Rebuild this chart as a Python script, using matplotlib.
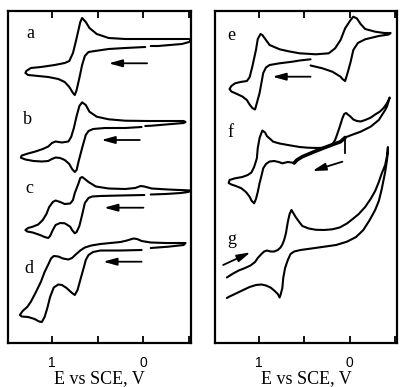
import matplotlib
matplotlib.use("Agg")
import matplotlib.pyplot as plt

# potentials in V vs SCE, currents in arbitrary units (traces stacked with offsets)
a_E = [-0.02, 0.20, 0.38, 0.53, 0.60, 0.64, 0.67, 0.70, 0.73, 0.75, 0.77, 0.81, 0.86, 0.93, 1.04, 1.15, 1.26, 1.29,
       1.28, 1.23, 1.12, 0.97, 0.86, 0.81, 0.77, 0.74, 0.71, 0.69, 0.67, 0.63, 0.59, 0.51, 0.38, 0.20, -0.05, -0.35, -0.50, -0.52,
       -0.50, -0.42, -0.16, -0.08]
a_I = [296, 295, 294, 292, 291, 287, 278, 265, 253, 248, 250, 256, 261, 264, 266, 267, 268, 270,
       272, 275, 276, 278, 280, 282, 290, 301, 313, 321, 325, 321, 315, 309, 305, 304, 304, 304, 304, 302.5,
       301, 299, 297, 297]

b_E = [0.02, 0.20, 0.42, 0.55, 0.60, 0.63, 0.67, 0.71, 0.73, 0.75, 0.78, 0.81, 0.86, 0.91, 0.96, 1.00, 1.04, 1.11, 1.20, 1.29, 1.34,
       1.33, 1.26, 1.18, 1.10, 1.04, 1.00, 0.96, 0.89, 0.82, 0.79, 0.76, 0.73, 0.70, 0.67, 0.63, 0.59, 0.51, 0.38, 0.20, -0.05, -0.27, -0.44, -0.46,
       -0.44, -0.27, -0.09, -0.02]
b_I = [216, 215, 215, 214, 212, 208, 195, 181, 173, 171, 174, 179, 183, 185, 185.5, 184, 182, 181.5, 182, 183.5, 185.3,
       187.5, 189.5, 191.5, 194, 196.5, 200, 201.5, 200.5, 201.5, 206, 215, 227, 237, 240.7, 238, 231.3, 226.3, 223.7, 222.3, 222, 222, 222, 221,
       220, 218.7, 217.3, 217]

c_E = [-0.01, 0.25, 0.47, 0.56, 0.60, 0.64, 0.67, 0.70, 0.73, 0.75, 0.78, 0.80, 0.86, 0.91, 0.96, 0.99, 1.02, 1.04, 1.08, 1.13, 1.21, 1.27, 1.29,
       1.26, 1.21, 1.15, 1.10, 1.06, 1.03, 0.99, 0.96, 0.91, 0.86, 0.80, 0.77, 0.75, 0.71, 0.69, 0.67, 0.64, 0.60, 0.52, 0.38, 0.20, 0.09, 0.03,
       -0.01, -0.09, -0.27, -0.52,
       -0.49, -0.41, -0.24, -0.08]
c_I = [148, 147.5, 147, 146.5, 145, 140, 128, 117, 111, 109.7, 113, 116.3, 119.7, 120, 118, 113, 107, 105, 106, 108, 110.5, 111.5, 113,
       115, 116.3, 118.5, 123, 129, 136, 141, 142.5, 141, 139, 139.5, 143, 150, 159.5, 165, 166, 164, 161, 156.5, 154.5, 154, 155, 157,
       156.5, 154.5, 153.5, 152.5,
       151, 150, 149, 148.5]

d_E = [0.02, 0.25, 0.47, 0.55, 0.60, 0.63, 0.65, 0.69, 0.72, 0.75, 0.78, 0.84, 0.89, 0.93, 0.98, 1.02, 1.05, 1.08, 1.11, 1.14, 1.19, 1.26, 1.33, 1.35,
       1.32, 1.27, 1.23, 1.18, 1.12, 1.08, 1.04, 1.01, 0.98, 0.93, 0.88, 0.82, 0.78, 0.74, 0.69, 0.64, 0.57, 0.47, 0.36, 0.25, 0.18, 0.11, 0.07,
       0.02, -0.08, -0.24, -0.46,
       -0.44, -0.27, -0.08]
d_I = [93, 92.5, 92.5, 91, 88, 83, 76, 63, 53, 48, 50, 55, 58, 58.5, 55.5, 46, 35, 26, 21, 21.5, 24, 26, 26.5, 28,
       32, 36, 41.3, 50, 61.3, 71, 78.5, 84.5, 87, 86.5, 84.5, 83.5, 85, 88.5, 92.5, 95.5, 97.5, 99, 100, 101, 102.5, 104.5, 104,
       102, 100.5, 100, 100,
       98, 96.3, 95]

e_E = [0.43, 0.55, 0.63, 0.77, 0.88, 0.92, 0.95, 0.97, 0.99, 1.02, 1.04, 1.07, 1.10, 1.13, 1.18, 1.25, 1.30, 1.32,
       1.30, 1.26, 1.20, 1.13, 1.10, 1.07, 1.03, 1.01, 0.98, 0.96, 0.92, 0.88, 0.77, 0.66, 0.55, 0.37, 0.23, 0.16, 0.10, 0.05,
       -0.01, -0.04, -0.08, -0.12, -0.17, -0.28, -0.38, -0.45,
       -0.43, -0.32, -0.17, -0.09, -0.04, -0.01, 0.02, 0.05, 0.08, 0.10, 0.19, 0.30, 0.43]
e_I = [283.7, 282.5, 281.3, 279.7, 278, 275.5, 270, 260, 250, 240, 233.5, 235, 238.5, 243, 246.5, 249.5, 251.5, 254,
       257, 259.7, 261, 262, 265.7, 276.3, 293, 304, 309, 308, 303, 298, 293.7, 291.5, 289.7, 288.7, 289.7, 294.7, 303, 314.7,
       323, 326.3, 324.5, 319, 314, 311.3, 310, 310,
       308.5, 307, 303.7, 300, 293, 281, 271, 262, 264, 266.3, 271.3, 274.7, 277.5]

f_E = [0.05, 0.10, 0.17, 0.25, 0.39, 0.52, 0.58, 0.61, 0.64, 0.68, 0.74, 0.78, 0.83, 0.88, 0.92, 0.95, 0.97, 0.99, 1.01, 1.03,
       1.05, 1.08, 1.10, 1.14, 1.19, 1.25, 1.30, 1.33,
       1.32, 1.26, 1.18, 1.12, 1.08, 1.05, 1.02, 1.01, 0.99, 0.96, 0.93, 0.91, 0.84, 0.77, 0.68, 0.55, 0.46, 0.36, 0.28, 0.23,
       0.19, 0.16, 0.14, 0.11, 0.08, 0.06, 0.04, 0.02, -0.01, -0.04, -0.08, -0.12, -0.17, -0.23, -0.28, -0.33, -0.37, -0.41, -0.44,
       -0.43, -0.41, -0.39, -0.32, -0.23, -0.12, -0.02, 0.05]
f_I = [205.5, 201.3, 199, 196.3, 191.3, 186.3, 183, 180, 180.5, 181, 179.7, 181, 182, 181.5, 179, 174.7, 167, 160, 151, 144,
       139.7, 142.5, 146.3, 151, 154.7, 157, 158.5, 160,
       163, 164.7, 166, 168, 170.5, 176, 184.7, 195, 205, 212.5, 210.5, 207, 201.3, 199.5, 198, 196, 195.3, 195, 195.3, 196.5,
       198.7, 203, 208, 216, 224.7, 229, 230, 228.5, 226.3, 223.5, 222, 221.5, 223, 225.3, 228.5, 231.3, 234.7, 239.7, 245.5,
       242.5, 236.5, 233, 223, 216.3, 211.3, 208, 205.5]
f_spike_E = [0.05, 0.05]
f_spike_I = [205, 190]

g_E = [1.35, 1.29, 1.22, 1.15, 1.09, 1.04, 1.01, 0.97, 0.94, 0.91, 0.87, 0.83, 0.79, 0.76, 0.74, 0.72, 0.70, 0.68, 0.66, 0.64,
       0.63, 0.59, 0.55, 0.52, 0.45, 0.37, 0.28, 0.19, 0.11, 0.03, -0.04, -0.10, -0.17, -0.23, -0.28, -0.32, -0.35, -0.39, -0.41, -0.42,
       -0.42, -0.41, -0.39, -0.35, -0.32, -0.28, -0.22, -0.15, -0.07, 0.03, 0.15, 0.28, 0.42, 0.54, 0.61, 0.65, 0.68, 0.71, 0.73,
       0.74, 0.76, 0.77, 0.79, 0.83, 0.87, 0.92, 0.97, 1.03, 1.10, 1.17, 1.25, 1.32, 1.35]
g_I = [65.5, 69, 72.5, 75, 77.5, 81, 85, 89, 91.5, 92.5, 91.5, 91.5, 93, 95.5, 98.5, 103, 110, 121, 129, 133,
       131.5, 125.5, 120.5, 117, 114.5, 113.2, 113, 113.7, 115.5, 119.5, 124.5, 129, 136, 144, 152, 161, 169, 178, 187, 196,
       191, 183, 171, 153, 142, 133, 123, 113, 106, 101.3, 98, 96.3, 94.5, 93, 91.5, 89, 83, 75, 65,
       55, 48, 45.5, 49, 52.5, 55.5, 57.5, 58.5, 58, 56, 53, 49.5, 46.5, 45]

labels_left = ['a', 'b', 'c', 'd']
labels_right = ['e', 'f', 'g']
tick_pos = [1, 0.5, 0, -0.5]
tick_text = ['1', '', '0', '']

serif = 'Liberation Serif'
lw = 1.5

fig = plt.figure(figsize=(4.01, 3.87), dpi=100)
ax1 = fig.add_axes([8 / 401, 44 / 387, 183 / 401, 332 / 387])
ax2 = fig.add_axes([215 / 401, 44 / 387, 182 / 401, 332 / 387])

for ax in (ax1, ax2):
    ax.set_xlim(1.48, -0.52)
    ax.set_ylim(0, 332)
    ax.set_xticks(tick_pos)
    ax.set_xticklabels(tick_text, fontfamily='Liberation Sans', fontsize=10)
    ax.tick_params(axis='x', direction='in', top=True, length=5, width=1.3, pad=9.5)
    ax.set_yticks([])
    for sp in ax.spines.values():
        sp.set_linewidth(1.6)
    ax.set_xlabel('E vs SCE, V', fontfamily=serif, fontsize=13, labelpad=0)

style = dict(color='black', lw=lw, solid_joinstyle='round', solid_capstyle='round')

# left panel
ax1.plot(a_E, a_I, **style)
ax1.plot(b_E, b_I, **style)
ax1.plot(c_E, c_I, **style)
ax1.plot(d_E, d_I, **style)

# right panel
ax2.plot(e_E, e_I, **style)
ax2.plot(f_E, f_I, **style)
ax2.plot(f_E[:8], f_I[:8], color='black', lw=2.6, solid_capstyle='round')
ax2.plot(f_spike_E, f_spike_I, color='black', lw=1.3)
ax2.plot(g_E, g_I, **style)

arrow = dict(arrowstyle='-|>,head_length=0.8,head_width=0.22', color='black', lw=1.3,
             shrinkA=0, shrinkB=0, mutation_scale=10)
# scan direction arrows
for ax, (x0, y0, x1, y1) in [(ax1, (-0.04, 279.7, 0.38, 279.7)),
                             (ax1, (0.04, 203, 0.46, 203)),
                             (ax1, (0.0, 135.3, 0.43, 135.3)),
                             (ax1, (0.02, 81.3, 0.44, 81.3)),
                             (ax2, (0.43, 266.3, 0.85, 266.3)),
                             (ax2, (0.08, 181.3, 0.41, 172)),
                             (ax2, (1.39, 78, 1.09, 90.7))]:
    ax.annotate('', xy=(x1, y1), xytext=(x0, y0), arrowprops=arrow)

for lab, (x, y) in zip(labels_left, [(1.24, 309), (1.27, 224), (1.25, 154.5), (1.25, 74.7)]):
    ax1.text(x, y, lab, fontfamily=serif, fontsize=13, ha='center', va='center')
for lab, (x, y) in zip(labels_right, [(1.30, 308), (1.315, 210.5), (1.30, 104)]):
    ax2.text(x, y, lab, fontfamily=serif, fontsize=13, ha='center', va='center')

fig.savefig('out.png', dpi=100)
